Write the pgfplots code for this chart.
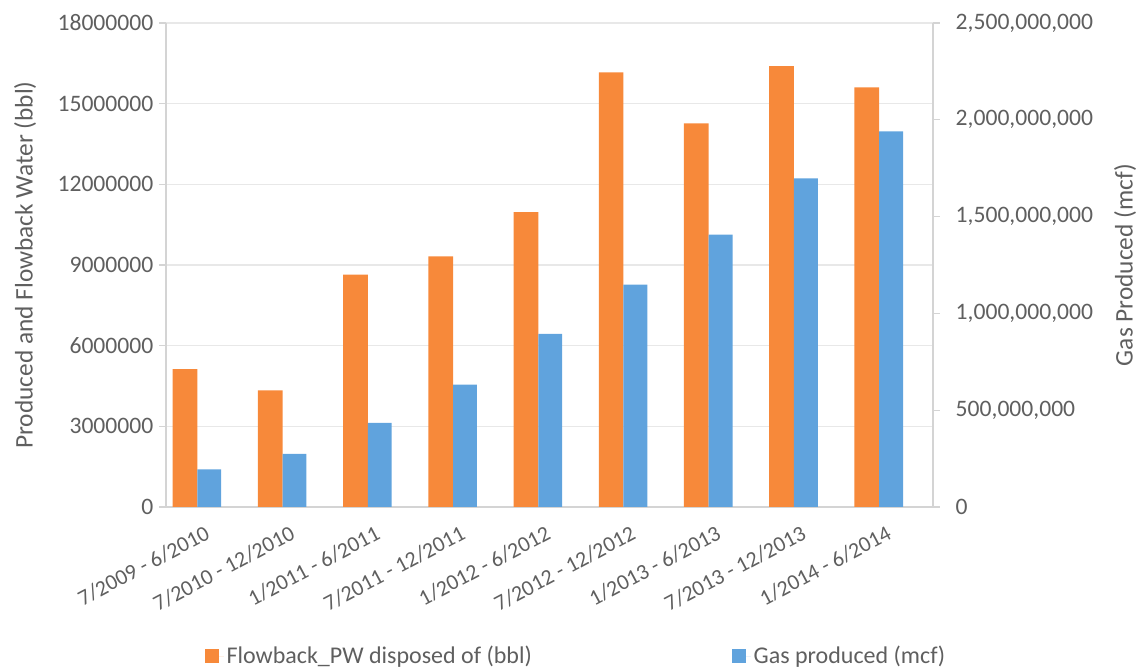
\documentclass[border=0pt]{standalone}
\usepackage{fontspec}
\setmainfont{Carlito}
\usepackage{pgfplots}
\pgfplotsset{compat=1.18}
\definecolor{orangebar}{HTML}{F7893A}
\definecolor{bluebar}{HTML}{60A3DD}
\definecolor{txt}{HTML}{5F5F5F}
\definecolor{gridc}{HTML}{E8E8E8}
\definecolor{axc}{HTML}{D4D4D4}
\begin{document}
\begin{tikzpicture}
\useasboundingbox (-124.5pt,-122.25pt) rectangle (729pt,380.25pt);
\pgfplotsset{
  common/.style={
    scale only axis, width=575.25pt, height=363pt,
    xmin=-0.5, xmax=8.5, ymin=0,
    scaled y ticks=false,
    axis line style={-, draw=axc, line width=0.8pt},
    tick align=outside, major tick length=5pt,
    ytick style={draw=axc, line width=0.8pt},
    xtick style={draw=none},
    yticklabel style={font=\fontsize{17.7}{20}\selectfont, text=txt},
    legend style={draw=none, fill=none, inner sep=0pt, font=\fontsize{18}{21}\selectfont, text=txt},
    legend image code/.code={\fill[##1] (0pt,-5.25pt) rectangle (10.5pt,5.25pt); \path (0pt,0pt) -- (14pt,0pt);},
  }
}
\begin{axis}[common,
  ymax=18000000,
  axis x line*=bottom, axis y line*=left,
  ymajorgrids, grid style={gridc, line width=0.8pt},
  ytick={0,3000000,6000000,9000000,12000000,15000000,18000000},
  yticklabels={0,3000000,6000000,9000000,12000000,15000000,18000000},
  yticklabel style={xshift=-1pt},
  xtick={0,1,2,3,4,5,6,7,8},
  xticklabels={7/2009 - 6/2010, 7/2010 - 12/2010, 1/2011 - 6/2011, 7/2011 - 12/2011, 1/2012 - 6/2012, 7/2012 - 12/2012, 1/2013 - 6/2013, 7/2013 - 12/2013, 1/2014 - 6/2014},
  xticklabel style={font=\fontsize{16.5}{19}\selectfont, text=txt, rotate=28, anchor=north east, yshift=-2pt, xshift=-3.5pt},
  ylabel={Produced and Flowback Water (bbl)},
  ylabel style={at={(rel axis cs:0,0.5)}, anchor=center, yshift=105.75pt, font=\fontsize{19}{23}\selectfont, text=txt},
  legend style={at={(rel axis cs:0.0508,-0.308)}, anchor=west},
]
\addplot[ybar, bar width=0.29, bar shift=-0.277, fill=orangebar, draw=none] coordinates {
(0,5130000) (1,4340000) (2,8640000) (3,9320000) (4,10970000) (5,16160000) (6,14270000) (7,16400000) (8,15610000)};
\addlegendentry{Flowback\_PW disposed of (bbl)}
\end{axis}
\begin{axis}[common,
  ymax=2500000000,
  axis x line=none, axis y line*=right,
  ytick={0,500000000,1000000000,1500000000,2000000000,2500000000},
  yticklabels={0,{500,000,000},{1,000,000,000},{1,500,000,000},{2,000,000,000},{2,500,000,000}},
  yticklabel style={xshift=8.5pt},
  ylabel={Gas Produced (mcf)},
  ylabel style={at={(rel axis cs:1,0.5)}, anchor=center, yshift=-144pt, font=\fontsize{19}{23}\selectfont, text=txt},
  legend style={at={(rel axis cs:0.738,-0.308)}, anchor=west},
]
\addplot[ybar, bar width=0.28, bar shift=0.008, fill=bluebar, draw=none] coordinates {
(0,194000000) (1,274000000) (2,435000000) (3,632000000) (4,894000000) (5,1148000000) (6,1407000000) (7,1697000000) (8,1940000000)};
\addlegendentry{Gas produced (mcf)}
\end{axis}
\end{tikzpicture}
\end{document}
